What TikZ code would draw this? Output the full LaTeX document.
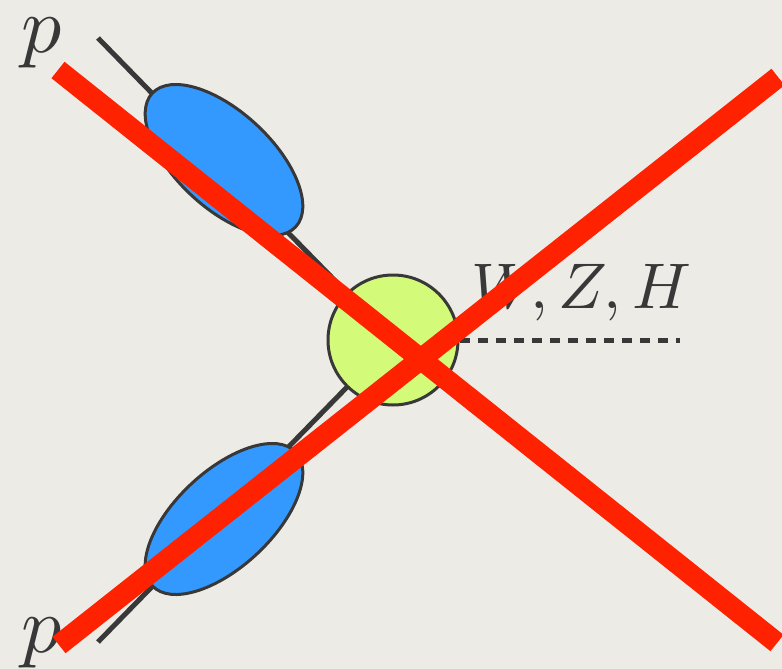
\documentclass[tikz,border=0pt]{standalone}
\usetikzlibrary{shapes.geometric}
\definecolor{bgcol}{HTML}{EDEBE6}
\definecolor{blobblue}{HTML}{3399FF}
\definecolor{vertgreen}{HTML}{D4FA7A}
\definecolor{inkgray}{HTML}{383838}
\definecolor{crossred}{HTML}{FF2200}
\tikzset{
  quark/.style={draw=inkgray, line width=5pt},
  blob/.style={ellipse, draw=inkgray, line width=3pt, fill=blobblue, inner sep=0pt, minimum width=196pt, minimum height=96pt},
  vertex/.style={circle, draw=inkgray, line width=3pt, fill=vertgreen, inner sep=0pt, minimum size=130pt},
  boson/.style={draw=inkgray, line width=5pt, dash pattern=on 10pt off 8pt},
  lbl/.style={text=inkgray, inner sep=0pt},
  crossline/.style={draw=crossred, line width=21pt, line cap=butt}
}
\begin{document}
\begin{tikzpicture}[x=1pt,y=-1pt]
\fill[bgcol] (0,0) rectangle (782,669);
\useasboundingbox (0,0) rectangle (782,669);
% coordinates
\coordinate (qa) at (98,38);
\coordinate (qb) at (98,642);
\coordinate (bend) at (680,340);
\coordinate (r1a) at (58,70);
\coordinate (r1b) at (777,643);
\coordinate (r2a) at (59,645);
\coordinate (r2b) at (778,77);
\coordinate (vc) at (393,340);
% quark lines behind
\draw[quark] (qa) -- (vc);
\draw[quark] (qb) -- (vc);
% nodes
\node[blob, rotate=-43] (e1) at (224,160) {};
\node[blob, rotate=43] (e2) at (224,519) {};
\node[vertex] (v) at (vc) {};
\draw[boson] (v.east) -- (bend);
% labels
\node[lbl, scale=8] (p1) at (42,43) {$p$};
\node[lbl, scale=8] (p2) at (42,643) {$p$};
\node[lbl, scale=6.45, anchor=base west] (wzh) at (470,308) {$W, Z, H$};
% red cross
\draw[crossline] (r1a) -- (r1b);
\draw[crossline] (r2a) -- (r2b);
\end{tikzpicture}
\end{document}
